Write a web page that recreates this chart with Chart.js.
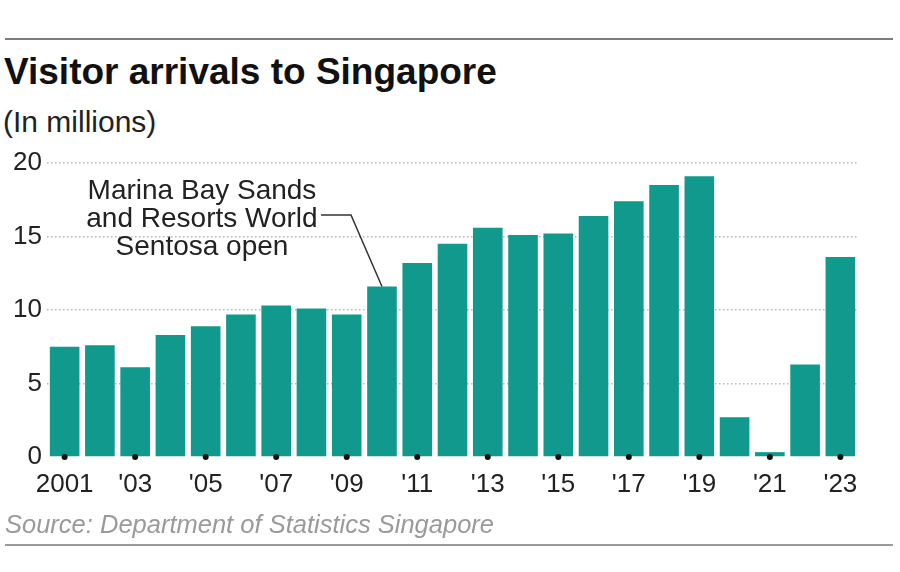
<!DOCTYPE html>
<html>
<head>
<meta charset="utf-8">
<title>Visitor arrivals to Singapore</title>
<script src="https://cdn.jsdelivr.net/npm/chart.js@4.4.1/dist/chart.umd.min.js"></script>
<style>
  html, body { margin: 0; padding: 0; background: #fff; }
  body { width: 900px; height: 572px; position: relative; overflow: hidden; font-family: "Liberation Sans", Arial, sans-serif; }
  .rule { position: absolute; left: 5px; width: 888px; height: 2px; }
  #topRule { top: 38px; background: #7d7d7d; }
  #bottomRule { top: 544px; background: #9a9a9a; }
  #title { position: absolute; left: 4px; top: 53px; font-size: 37px; font-weight: bold; line-height: 1; color: #111; white-space: nowrap; }
  #unit { position: absolute; left: 3px; top: 107px; font-size: 30px; line-height: 1; color: #222; white-space: nowrap; }
  #source { position: absolute; left: 5px; top: 512px; font-size: 25.5px; font-style: italic; line-height: 1; color: #9a9a9a; white-space: nowrap; }
  #chart { position: absolute; left: 0; top: 140px; }
</style>
</head>
<body>
<div class="rule" id="topRule"></div>
<div id="title">Visitor arrivals to Singapore</div>
<div id="unit">(In millions)</div>
<canvas id="chart" width="900" height="372"></canvas>
<div id="source">Source: Department of Statistics Singapore</div>
<div class="rule" id="bottomRule"></div>

<script>
// visitor arrivals, millions
const years = ["2001", "2002", "2003", "2004", "2005", "2006", "2007", "2008", "2009", "2010", "2011", "2012",
               "2013", "2014", "2015", "2016", "2017", "2018", "2019", "2020", "2021", "2022", "2023"];
const visitors = [7.5, 7.6, 6.1, 8.3, 8.9, 9.7, 10.3, 10.1, 9.7, 11.6, 13.2, 14.5,
                  15.6, 15.1, 15.2, 16.4, 17.4, 18.5, 19.1, 2.7, 0.33, 6.3, 13.6];
const tickLabels = ["2001", "", "'03", "", "'05", "", "'07", "", "'09", "", "'11", "",
                    "'13", "", "'15", "", "'17", "", "'19", "", "'21", "", "'23"];
const yTicks = [0, 5, 10, 15, 20];
const noteLines = ["Marina Bay Sands", "and Resorts World", "Sentosa open"];
const noteYear = "2010";

const teal = "#10998c";

// callout with leader line to the 2010 bar
const notePlugin = {
  id: "mbsNote",
  afterDatasetsDraw(chart) {
    const { ctx, chartArea, scales: { x, y } } = chart;
    const i = years.indexOf(noteYear);
    const tipX = x.getPixelForValue(i);
    const tipY = y.getPixelForValue(visitors[i]);
    const elbowY = chartArea.top + 52;

    ctx.save();
    ctx.strokeStyle = "#333";
    ctx.lineWidth = 1.5;
    ctx.beginPath();
    ctx.moveTo(tipX - 61, elbowY);
    ctx.lineTo(tipX - 31, elbowY);
    ctx.lineTo(tipX, tipY);
    ctx.stroke();

    ctx.fillStyle = "#222";
    ctx.font = "28px 'Liberation Sans', Arial, sans-serif";
    ctx.textAlign = "center";
    ctx.textBaseline = "middle";
    const cx = tipX - 180;
    noteLines.forEach((t, k) => ctx.fillText(t, cx, chartArea.top + 28 + k * 28.3));
    ctx.restore();
  }
};

new Chart(document.getElementById("chart"), {
  type: "bar",
  data: {
    labels: years,
    datasets: [
      {
        type: "line",
        data: tickLabels.map(t => (t ? 0 : null)),
        showLine: false,
        pointRadius: 3,
        pointBackgroundColor: "#111",
        pointBorderWidth: 0,
        clip: false,
        order: 0
      },
      {
        data: visitors,
        backgroundColor: teal,
        barPercentage: 0.84,
        categoryPercentage: 1.0,
        order: 1
      }
    ]
  },
  options: {
    responsive: false,
    animation: false,
    layout: { padding: { top: 23, right: 42, left: 0, bottom: 0 } },
    plugins: {
      legend: { display: false },
      tooltip: { enabled: false }
    },
    scales: {
      x: {
        grid: { display: false },
        border: { display: false },
        ticks: {
          autoSkip: false,
          maxRotation: 0,
          padding: 4,
          color: "#222",
          font: { family: "'Liberation Sans', Arial, sans-serif", size: 26 },
          callback: (v, i) => tickLabels[i]
        },
        afterFit: s => { s.height = 55; }
      },
      y: {
        min: 0,
        max: 20,
        afterBuildTicks: s => { s.ticks = yTicks.map(v => ({ value: v })); },
        grid: {
          drawTicks: false,
          color: c => (c.tick.value === 0 ? "rgba(0,0,0,0)" : "#b8b8b8"),
          lineWidth: 1.5
        },
        border: { display: false, dash: [1.5, 2.5] },
        ticks: {
          padding: 5,
          color: "#222",
          font: { family: "'Liberation Sans', Arial, sans-serif", size: 26 }
        },
        afterFit: s => { s.width = 47; }
      }
    }
  },
  plugins: [notePlugin]
});
</script>
</body>
</html>
